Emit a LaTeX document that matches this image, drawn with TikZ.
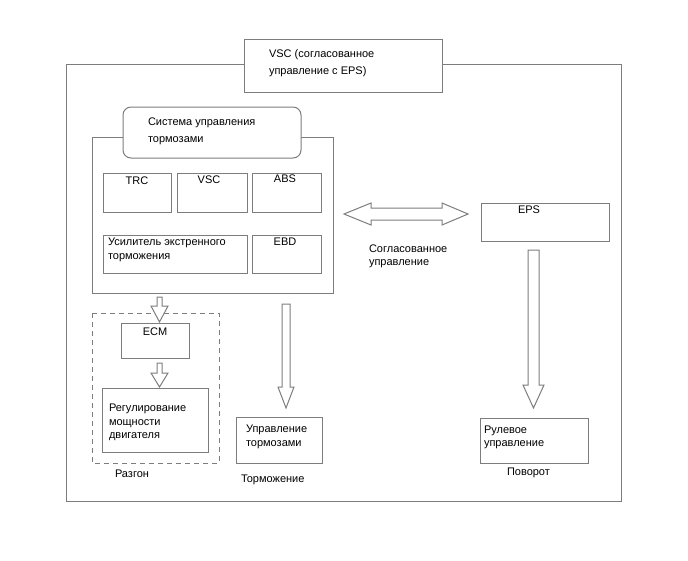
\documentclass[tikz,border=0pt]{standalone}
\usepackage{fontspec}
\setmainfont{Liberation Sans}
\begin{document}
\begin{tikzpicture}[x=1pt,y=-1pt,
  line width=1pt,
  every node/.style={font=\fontsize{11}{13}\selectfont, inner sep=0pt, outer sep=0pt},
  boxst/.style={draw=lgray, fill=white, rectangle},
  txt/.style={anchor=west, align=left, text=black},
  ctxt/.style={anchor=center, align=center, text=black},
  blk/.style={draw=lgray, fill=white, line width=1pt, line join=miter}]
\definecolor{lgray}{RGB}{125,125,125}
\useasboundingbox[fill=white] (0,0) rectangle (688,560);
% outer frame
\draw[lgray] (66,64) rectangle (621,501);
% top VSC box
\node[boxst, minimum width=198pt, minimum height=53pt, anchor=north west] (vsc) at (244,39) {};
\node[txt, font=\fontsize{11}{17}\selectfont] (vsct) at (269,63.5) {VSC (согласованное\\управление с EPS)};
% brake system frame
\node[boxst, minimum width=241pt, minimum height=156pt, anchor=north west] (brk) at (92,137) {};
\node[boxst, rounded corners=8pt, minimum width=178pt, minimum height=51pt, anchor=north west] (brkt) at (123,107) {};
\node[txt, font=\fontsize{11}{17}\selectfont] (brktt) at (148,131.5) {Система управления\\тормозами};
% inner boxes
\node[boxst, minimum width=68pt, minimum height=39pt, anchor=north west] (trc) at (103,173) {};
\node[ctxt] (trct) at (137,181) {TRC};
\node[boxst, minimum width=70pt, minimum height=39pt, anchor=north west] (vss) at (177,173) {};
\node[ctxt] (vsst) at (209,180) {VSC};
\node[boxst, minimum width=69pt, minimum height=39pt, anchor=north west] (abs) at (252,173) {};
\node[ctxt] (abst) at (285,179) {ABS};
\node[boxst, minimum width=144pt, minimum height=38pt, anchor=north west] (ba) at (103,235) {};
\node[txt, font=\fontsize{11}{14}\selectfont] (bat) at (108,250) {Усилитель экстренного\\торможения};
\node[boxst, minimum width=69pt, minimum height=38pt, anchor=north west] (ebd) at (252,235) {};
\node[ctxt] (ebdt) at (285,242) {EBD};
% double arrow
\draw[blk] (344,214) -- (371,203) -- (371,208) -- (442,208) -- (442,203) -- (468,214)
  -- (442,225) -- (442,220) -- (371,220) -- (371,225) -- cycle;
\node[txt] (coord) at (369,256) {Согласованное\\управление};
% EPS
\node[boxst, minimum width=128pt, minimum height=38pt, anchor=north west] (eps) at (481,203) {};
\node[ctxt] (epst) at (529,210) {EPS};
% EPS arrow
\draw[blk] (528,250) -- (539,250) -- (539,385) -- (544,385) -- (533.5,408) -- (523,385) -- (528,385) -- cycle;
\node[boxst, minimum width=108pt, minimum height=45pt, anchor=north west] (steer) at (480,418) {};
\node[txt] (steert) at (484,437) {Рулевое\\управление};
\node[txt] (turn) at (507,473) {Поворот};
% brake arrow
\draw[blk] (282,304) -- (290,304) -- (290,387) -- (294,387) -- (286,408) -- (278,387) -- (282,387) -- cycle;
\node[boxst, minimum width=86pt, minimum height=46pt, anchor=north west] (bc) at (236,417) {};
\node[txt, font=\fontsize{11}{14}\selectfont] (bct) at (246,437) {Управление\\тормозами};
\node[txt] (braking) at (241,480) {Торможение};
% acceleration dashed
\draw[lgray, dashed, dash pattern=on 5pt off 4pt] (92,313) rectangle (219,463);
\node[boxst, minimum width=68pt, minimum height=35pt, anchor=north west] (ecm) at (121,323) {};
\node[ctxt] (ecmt) at (155,332) {ECM};
\node[boxst, minimum width=106pt, minimum height=64pt, anchor=north west] (eng) at (102,388) {};
\node[txt, font=\fontsize{11}{13.5}\selectfont] (engt) at (109,422.5) {Регулирование\\мощности\\двигателя};
\node[txt] (accel) at (115,474) {Разгон};
% small arrows
\draw[blk] (157,297) -- (162,297) -- (162,306) -- (168,306) -- (159.5,322) -- (151,306) -- (157,306) -- cycle;
\draw[blk] (157,363) -- (162,363) -- (162,373) -- (168,373) -- (159.5,387) -- (151,373) -- (157,373) -- cycle;
\end{tikzpicture}
\end{document}
